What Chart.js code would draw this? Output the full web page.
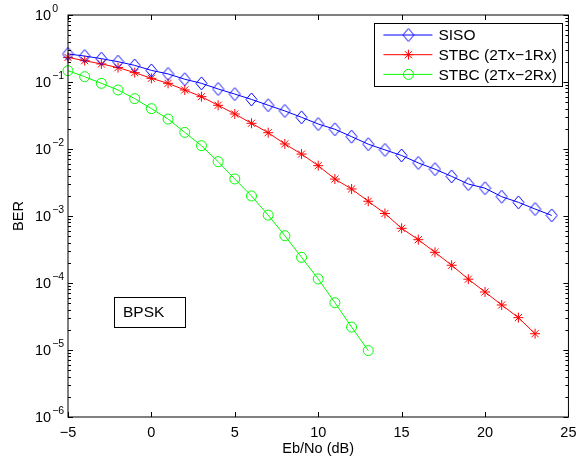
<!DOCTYPE html>
<html>
<head>
<meta charset="utf-8">
<script src="https://cdn.jsdelivr.net/npm/chart.js@4.4.0/dist/chart.umd.min.js"></script>
<style>
  html, body { margin: 0; padding: 0; background: #fff; }
  #wrap { width: 584px; height: 464px; }
</style>
</head>
<body>
<div id="wrap"><canvas id="berChart" width="584" height="464"></canvas></div>
<script>
// values (BER vs Eb/No, BPSK)
const ebnoSiso = [-5,-4,-3,-2,-1,0,1,2,3,4,5,6,7,8,9,10,11,12,13,14,15,16,17,18,19,20,21,22,23,24];
const berSiso = [0.262,0.244,0.223,0.201,0.177,0.149,0.132,0.110,0.0955,0.0787,0.066,0.055,0.045,0.037,0.0297,
                 0.0236,0.0197,0.0153,0.0118,0.0097,0.0080,0.0062,0.0050,0.0039,0.0030,0.0026,0.00194,0.0016,0.00127,0.00102];

const ebnoStbc21 = [-5,-4,-3,-2,-1,0,1,2,3,4,5,6,7,8,9,10,11,12,13,14,15,16,17,18,19,20,21,22,23];
const berStbc21 = [0.233,0.208,0.186,0.164,0.138,0.1135,0.0955,0.076,0.0604,0.0449,0.0333,0.0242,0.0175,0.0119,0.0084,
                   0.00564,0.00356,0.00253,0.00166,0.00109,0.000655,0.000443,0.000287,0.000184,0.000114,7.34e-5,4.7e-5,3.04e-5,1.75e-5];

const ebnoStbc22 = [-5,-4,-3,-2,-1,0,1,2,3,4,5,6,7,8,9,10,11,12,13];
const berStbc22 = [0.1475,0.120,0.0955,0.076,0.0564,0.040,0.028,0.0177,0.0112,0.00647,0.00357,0.00199,0.00103,
                   0.000508,0.000242,0.000115,5.08e-5,2.2e-5,9.8e-6];

const seriesLabels = ['SISO', 'STBC (2Tx\u22121Rx)', 'STBC (2Tx\u22122Rx)'];
const xTicks = [-5, 0, 5, 10, 15, 20, 25];
const yExponents = [0, -1, -2, -3, -4, -5, -6];
const noteText = 'BPSK';

const FONT = '"Liberation Sans", Arial, Helvetica, sans-serif';

function toPoints(xs, ys) {
  return xs.map((x, i) => ({ x: x, y: ys[i] }));
}

// matlab style diamond, a bit taller than wide
function makeDiamond(color) {
  const c = document.createElement('canvas');
  c.width = 13; c.height = 15;
  const g = c.getContext('2d');
  g.strokeStyle = color;
  g.lineWidth = 1;
  g.beginPath();
  g.moveTo(6.5, 1); g.lineTo(12, 7.5); g.lineTo(6.5, 14); g.lineTo(1, 7.5);
  g.closePath();
  g.stroke();
  return c;
}

const frameAndNotes = {
  id: 'frameAndNotes',
  afterDraw(chart) {
    const { ctx, chartArea: a, scales } = chart;
    const xs = scales.x, ys = scales.y;
    ctx.save();
    ctx.strokeStyle = '#000';
    ctx.lineWidth = 1;
    ctx.strokeRect(a.left, a.top, a.right - a.left, a.bottom - a.top);

    // inward tick marks, minor ones on the log axis
    ctx.beginPath();
    xTicks.forEach(v => {
      const px = Math.round(xs.getPixelForValue(v)) + 0.5;
      ctx.moveTo(px, a.bottom); ctx.lineTo(px, a.bottom - 5);
      ctx.moveTo(px, a.top); ctx.lineTo(px, a.top + 5);
    });
    yExponents.forEach(e => {
      for (let k = 1; k <= 9; k++) {
        if (e === 0 && k > 1) break;
        const py = Math.round(ys.getPixelForValue(k * Math.pow(10, e))) + 0.5;
        const len = k === 1 ? 5 : 3;
        ctx.moveTo(a.left, py); ctx.lineTo(a.left + len, py);
        ctx.moveTo(a.right, py); ctx.lineTo(a.right - len, py);
      }
    });
    ctx.stroke();

    // y tick labels as 10 with superscript exponent
    ctx.fillStyle = '#000';
    ctx.textAlign = 'left';
    ctx.textBaseline = 'middle';
    yExponents.forEach(e => {
      const py = ys.getPixelForValue(Math.pow(10, e));
      ctx.font = '14.5px ' + FONT;
      ctx.fillText('10', a.left - 33, py + 1);
      const w = ctx.measureText('10').width;
      ctx.font = '10.5px ' + FONT;
      ctx.fillText(e === 0 ? '0' : '\u2212' + (-e), a.left - 33 + w + 1, py - 6);
    });

    // legend box
    const lx = a.right - 194, ly = a.top + 8, lw = 188, lh = 63;
    ctx.fillStyle = '#fff';
    ctx.fillRect(lx, ly, lw, lh);
    ctx.strokeRect(Math.round(lx) + 0.5, Math.round(ly) + 0.5, lw, lh);
    chart.data.datasets.forEach((ds, i) => {
      const ry = ly + 12 + i * 19.7;
      ctx.strokeStyle = ds.borderColor;
      ctx.lineWidth = 1;
      ctx.beginPath();
      ctx.moveTo(lx + 9, ry); ctx.lineTo(lx + 58, ry);
      ctx.stroke();
      ctx.fillStyle = 'rgba(0,0,0,0)';
      Chart.helpers.drawPoint(ctx, {
        pointStyle: ds.pointStyle, rotation: 0,
        radius: ds.pointRadius, borderWidth: 1
      }, lx + 34, ry);
      ctx.fillStyle = '#000';
      ctx.font = '15.5px ' + FONT;
      ctx.textBaseline = 'middle';
      ctx.fillText(ds.label, lx + 64, ry + 1);
    });

    // modulation note
    const bx = a.left + 46, by = a.top + 282;
    ctx.strokeStyle = '#000';
    ctx.strokeRect(bx + 0.5, by + 0.5, 71, 30);
    ctx.fillStyle = '#000';
    ctx.font = '15.5px ' + FONT;
    ctx.fillText(noteText, bx + 9, by + 16);
    ctx.restore();
  }
};

const chart = new Chart(document.getElementById('berChart'), {
  type: 'line',
  data: {
    datasets: [
      {
        label: seriesLabels[0],
        data: toPoints(ebnoSiso, berSiso),
        borderColor: 'rgb(0,0,255)',
        borderWidth: 1,
        pointStyle: makeDiamond('rgb(0,0,255)'),
        pointRadius: 6,
        clip: false
      },
      {
        label: seriesLabels[1],
        data: toPoints(ebnoStbc21, berStbc21),
        borderColor: 'rgb(255,0,0)',
        borderWidth: 1,
        pointStyle: 'star',
        pointRadius: 5,
        pointBorderColor: 'rgb(255,0,0)',
        pointBackgroundColor: 'rgba(0,0,0,0)',
        clip: false
      },
      {
        label: seriesLabels[2],
        data: toPoints(ebnoStbc22, berStbc22),
        borderColor: 'rgb(0,255,0)',
        borderWidth: 1,
        pointStyle: 'circle',
        pointRadius: 5,
        pointBorderColor: 'rgb(0,255,0)',
        pointBackgroundColor: 'rgba(0,0,0,0)',
        clip: false
      }
    ]
  },
  options: {
    responsive: false,
    animation: false,
    devicePixelRatio: 1,
    layout: { padding: { left: 0, right: 6, top: 15, bottom: 0 } },
    plugins: { legend: { display: false }, tooltip: { enabled: false } },
    elements: { line: { tension: 0 } },
    scales: {
      x: {
        type: 'linear',
        min: -5, max: 25,
        grid: { display: false, drawTicks: false },
        border: { display: false },
        ticks: {
          stepSize: 5,
          padding: 7.5,
          color: '#000',
          font: { family: FONT, size: 14.5 },
          callback: v => (v < 0 ? '\u2212' + (-v) : String(v))
        },
        title: {
          display: true, text: 'Eb/No (dB)', color: '#000',
          font: { family: FONT, size: 14.5 },
          padding: { top: 0, bottom: 6.5 }
        },
        afterFit: s => { s.height = 47; }
      },
      y: {
        type: 'logarithmic',
        min: 1e-6, max: 1,
        grid: { display: false, drawTicks: false },
        border: { display: false },
        ticks: { display: false },
        title: {
          display: true, text: 'BER', color: '#000',
          font: { family: FONT, size: 14.5 },
          padding: { top: 10.5, bottom: 0 }
        },
        afterFit: s => { s.width = 68; }
      }
    }
  },
  plugins: [frameAndNotes]
});
</script>
</body>
</html>
